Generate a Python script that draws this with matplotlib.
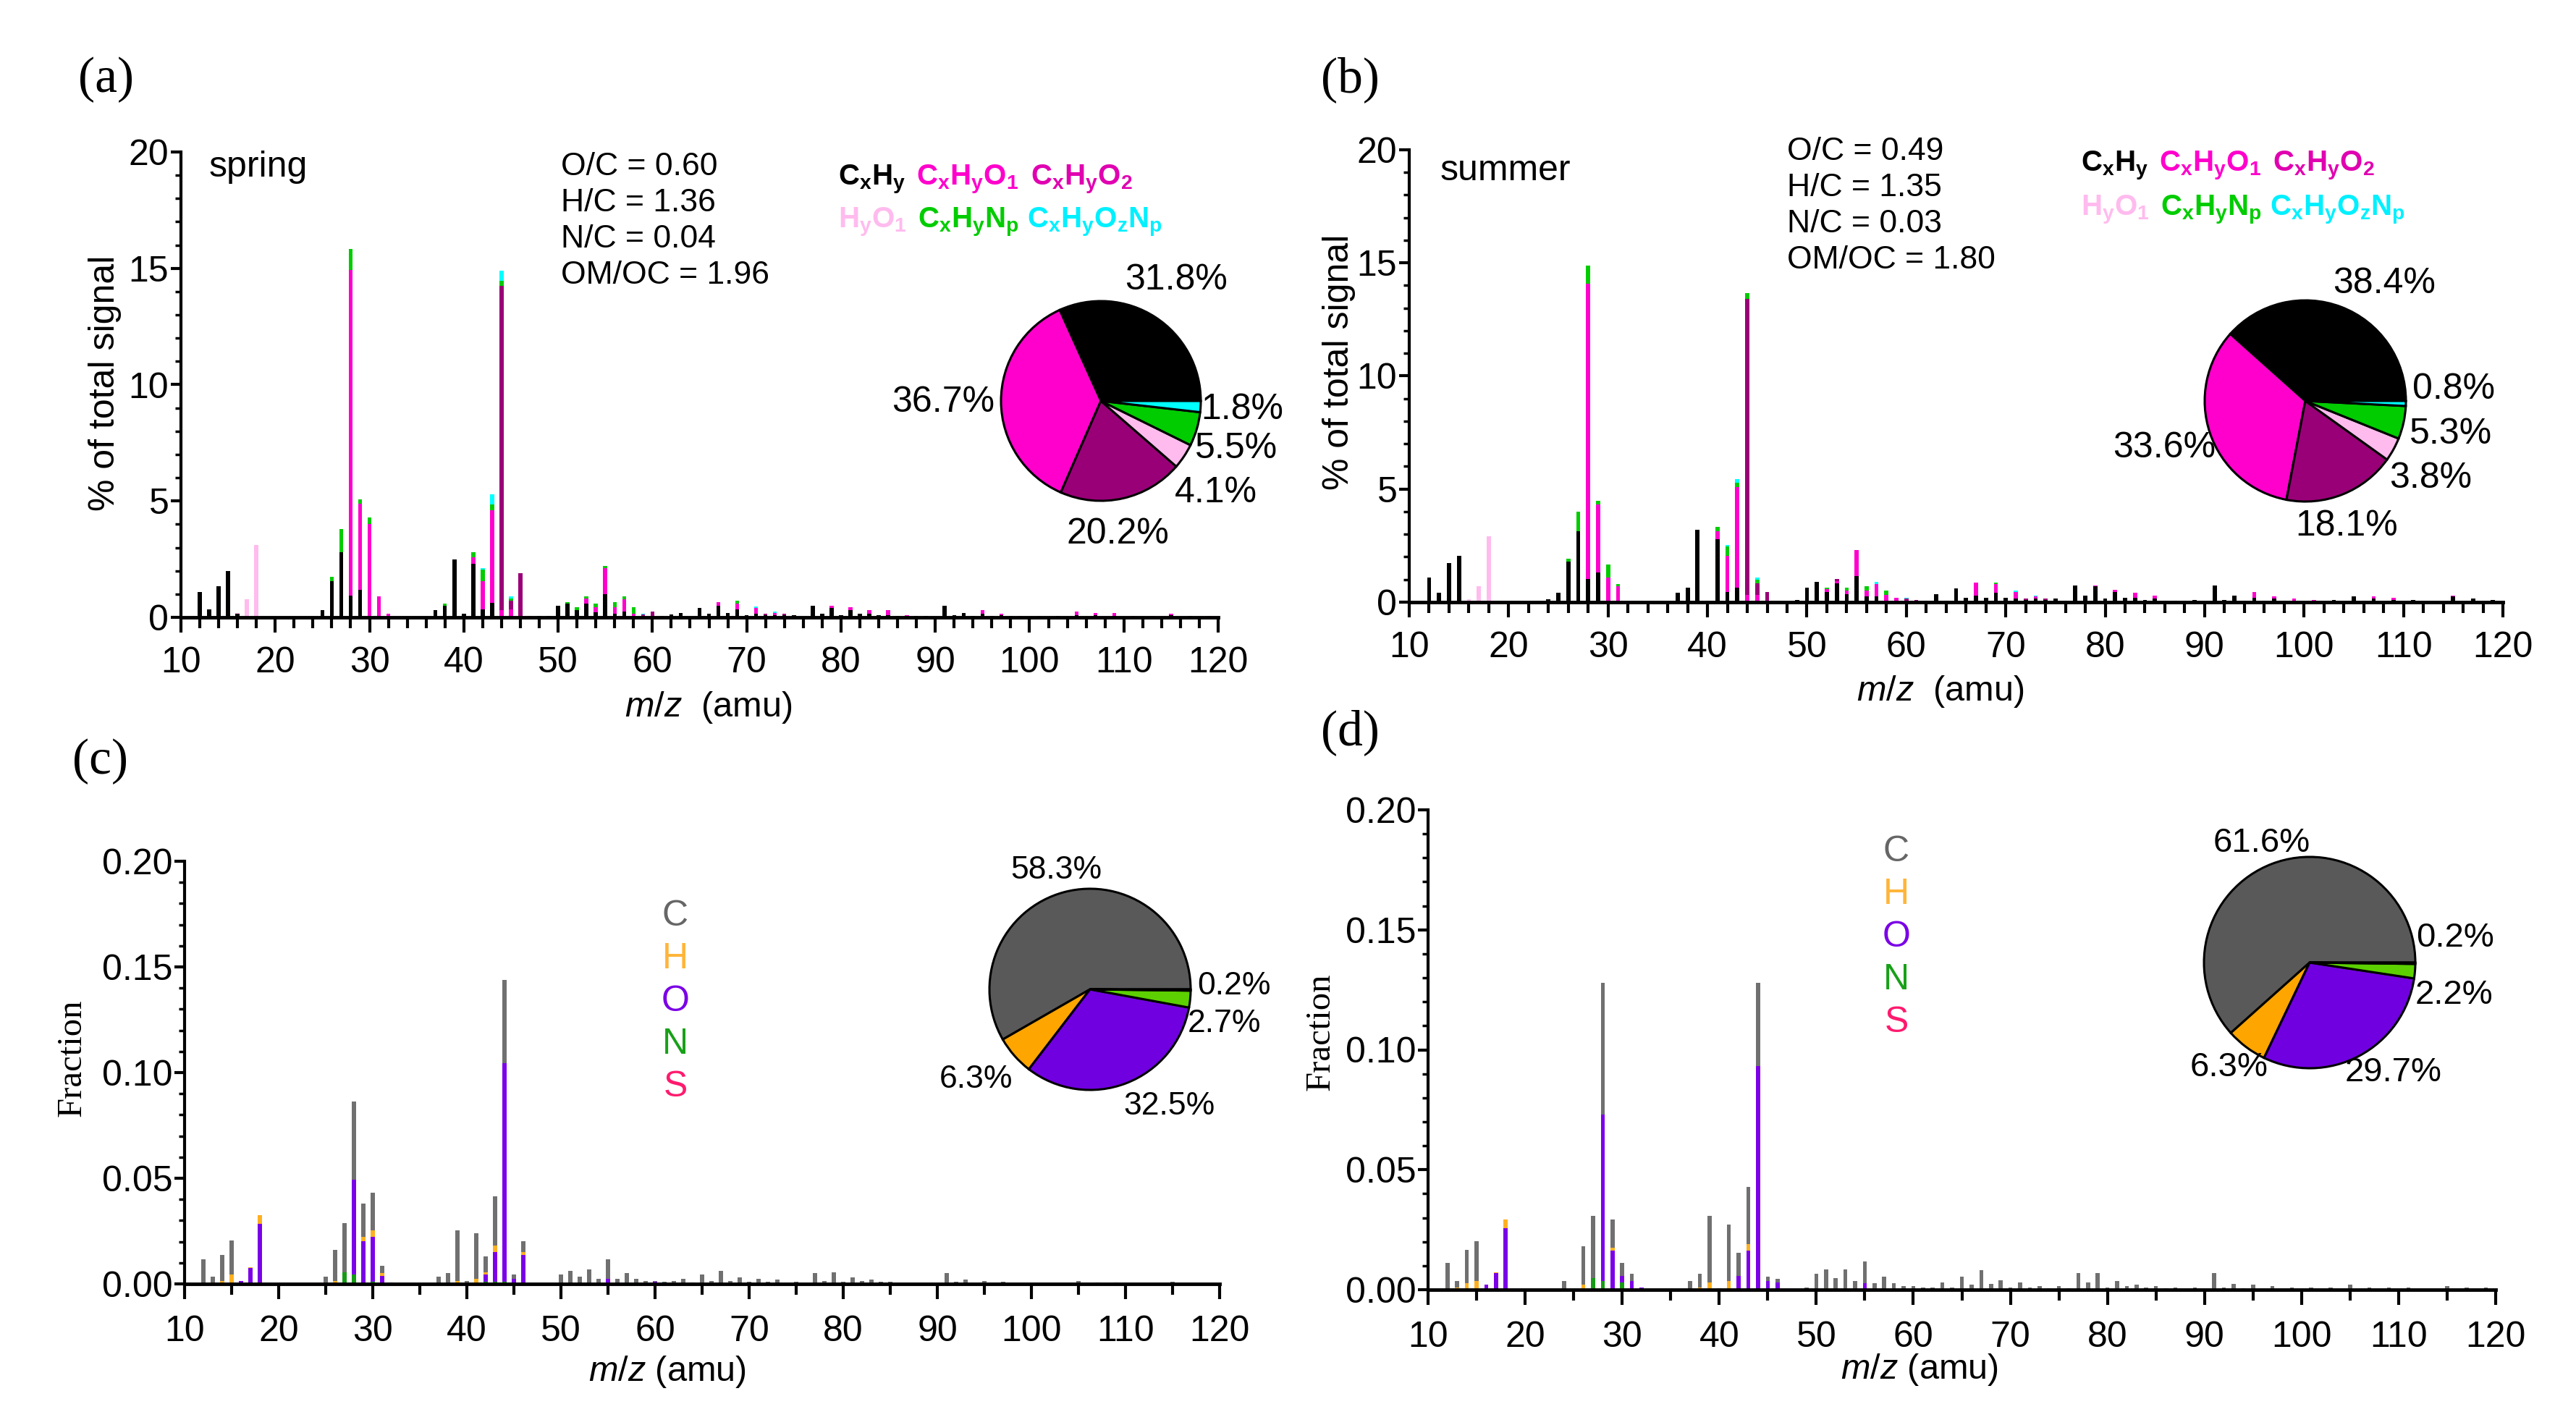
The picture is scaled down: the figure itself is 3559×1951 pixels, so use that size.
import numpy as np
import matplotlib
matplotlib.use('Agg')
import matplotlib.pyplot as plt
from matplotlib.ticker import MultipleLocator, FormatStrFormatter

plt.rcParams['font.family'] = ['Liberation Sans', 'DejaVu Sans']
plt.rcParams['mathtext.fontset'] = 'custom'
plt.rcParams['mathtext.rm'] = 'Liberation Sans'
plt.rcParams['mathtext.it'] = 'Liberation Sans:italic'
plt.rcParams['mathtext.bf'] = 'Liberation Sans:bold'

W, H = 3559, 1951
mz = np.arange(12, 121)

# ---- panel (a) spring, % of total signal, stacked families ----
cxhy_a = {12: 1.09, 13: 0.33, 14: 1.34, 15: 2.0, 16: 0.15, 24: 0.03, 25: 0.31, 26: 1.54, 27: 2.79,
          28: 0.92, 29: 1.19, 37: 0.31, 38: 0.5, 39: 2.48, 40: 0.15, 41: 2.31, 42: 0.33, 43: 0.61,
          48: 0.05, 49: 0.05, 50: 0.5, 51: 0.59, 52: 0.31, 53: 0.6, 54: 0.22, 55: 0.98, 56: 0.17,
          57: 0.25, 62: 0.12, 63: 0.2, 65: 0.4, 66: 0.15, 67: 0.5, 68: 0.2, 69: 0.35, 70: 0.1,
          71: 0.15, 72: 0.1, 73: 0.1, 74: 0.1, 75: 0.1, 77: 0.5, 78: 0.15, 79: 0.4, 80: 0.1,
          81: 0.3, 82: 0.15, 83: 0.15, 84: 0.1, 85: 0.1, 86: 0.05, 87: 0.05, 89: 0.05, 91: 0.5,
          92: 0.1, 93: 0.2, 94: 0.05, 95: 0.15, 96: 0.05, 97: 0.1, 98: 0.05, 103: 0.05, 105: 0.1,
          107: 0.1, 109: 0.05, 115: 0.1, 117: 0.05}
cxhyo1_a = {22: 0.03, 28: 14.0, 29: 3.7, 30: 4.02, 31: 0.89, 32: 0.15, 41: 0.28, 42: 1.23, 43: 3.99,
            44: 0.31, 45: 0.35, 47: 0.05, 53: 0.2, 54: 0.2, 55: 1.14, 56: 0.28, 57: 0.53, 58: 0.17,
            61: 0.05, 67: 0.15, 69: 0.25, 71: 0.25, 73: 0.1, 79: 0.1, 81: 0.15, 83: 0.15, 85: 0.2,
            87: 0.05, 95: 0.15, 97: 0.05, 99: 0.05, 101: 0.05, 105: 0.15, 107: 0.1, 109: 0.15,
            111: 0.05, 113: 0.05, 115: 0.05, 119: 0.05}
cxhyo2_a = {44: 13.94, 45: 0.35, 46: 1.9, 59: 0.12, 60: 0.25, 72: 0.05, 74: 0.05, 88: 0.05}
hyo1_a = {16: 0.05, 17: 0.78, 18: 3.12}
cxhynp_a = {26: 0.19, 27: 1.0, 28: 0.91, 29: 0.19, 30: 0.28, 38: 0.08, 41: 0.2, 42: 0.5, 43: 0.25,
            44: 0.2, 45: 0.1, 51: 0.05, 52: 0.14, 53: 0.09, 54: 0.17, 55: 0.08, 56: 0.2, 57: 0.11,
            58: 0.28, 69: 0.1}
cxhyoznp_a = {42: 0.05, 43: 0.45, 44: 0.45, 45: 0.1, 59: 0.05, 71: 0.08, 73: 0.05}
pie_a = [31.8, 36.7, 20.2, 4.1, 5.5, 1.8]

# ---- panel (b) summer ----
cxhy_b = {12: 1.09, 13: 0.42, 14: 1.74, 15: 2.06, 24: 0.14, 25: 0.42, 26: 1.78, 27: 3.15, 28: 1.01,
          29: 1.32, 37: 0.42, 38: 0.63, 39: 3.21, 40: 0.05, 41: 2.78, 42: 0.44, 43: 0.63, 49: 0.1,
          50: 0.63, 51: 0.89, 52: 0.46, 53: 0.83, 54: 0.34, 55: 1.15, 56: 0.25, 57: 0.25, 61: 0.05,
          62: 0.05, 63: 0.35, 64: 0.05, 65: 0.6, 66: 0.2, 67: 0.3, 68: 0.2, 69: 0.4, 70: 0.2,
          71: 0.15, 72: 0.1, 73: 0.15, 74: 0.1, 75: 0.15, 76: 0.05, 77: 0.75, 78: 0.3, 79: 0.7,
          80: 0.15, 81: 0.45, 82: 0.2, 83: 0.2, 84: 0.1, 85: 0.15, 86: 0.05, 87: 0.05, 89: 0.1,
          91: 0.75, 92: 0.1, 93: 0.3, 94: 0.05, 95: 0.2, 96: 0.05, 97: 0.15, 98: 0.05, 99: 0.05,
          101: 0.05, 103: 0.1, 105: 0.25, 106: 0.05, 107: 0.15, 109: 0.1, 111: 0.1, 115: 0.25,
          117: 0.15, 119: 0.1}
cxhyo1_b = {28: 13.07, 29: 3.0, 30: 1.09, 31: 0.69, 41: 0.34, 42: 1.62, 43: 4.47, 44: 0.32, 45: 0.32,
            52: 0.11, 53: 0.1, 54: 0.18, 55: 1.14, 56: 0.27, 57: 0.55, 58: 0.32, 59: 0.2, 67: 0.55,
            69: 0.4, 71: 0.3, 73: 0.1, 79: 0.05, 81: 0.1, 83: 0.2, 85: 0.15, 95: 0.25, 97: 0.1,
            99: 0.1, 101: 0.05, 107: 0.1, 109: 0.1, 115: 0.05}
cxhyo2_b = {22: 0.03, 32: 0.03, 44: 13.08, 45: 0.51, 46: 0.46, 53: 0.08, 60: 0.15, 61: 0.05,
            72: 0.05, 74: 0.05, 88: 0.05}
hyo1_b = {16: 0.14, 17: 0.71, 18: 2.92}
cxhynp_b = {26: 0.15, 27: 0.84, 28: 0.81, 29: 0.15, 30: 0.57, 31: 0.11, 41: 0.21, 42: 0.41, 43: 0.18,
            44: 0.25, 45: 0.15, 52: 0.06, 54: 0.11, 56: 0.19, 58: 0.2, 69: 0.05}
cxhyoznp_b = {42: 0.05, 43: 0.17, 45: 0.11, 57: 0.09, 60: 0.05, 71: 0.05, 73: 0.05}
pie_b = [38.4, 33.6, 18.1, 3.8, 5.3, 0.8]

# ---- panel (c) spring elemental fractions ----
c_c = {12: 0.0115, 13: 0.0028, 14: 0.0124, 15: 0.0161, 24: 0.0005, 25: 0.0032, 26: 0.0149, 27: 0.0232,
       28: 0.0368, 29: 0.0158, 30: 0.0178, 31: 0.0034, 37: 0.0034, 38: 0.0047, 39: 0.0239, 40: 0.0014,
       41: 0.0216, 42: 0.0074, 43: 0.0234, 44: 0.0393, 45: 0.0018, 46: 0.0052, 50: 0.0046, 51: 0.0059,
       52: 0.0034, 53: 0.0062, 54: 0.0025, 55: 0.0094, 56: 0.0023, 57: 0.0052, 58: 0.0025, 59: 0.0015,
       60: 0.0005, 61: 0.001, 62: 0.0015, 63: 0.0025, 64: 0.0005, 65: 0.0045, 66: 0.0015, 67: 0.006,
       68: 0.0015, 69: 0.003, 70: 0.001, 71: 0.0025, 72: 0.001, 73: 0.002, 74: 0.0005, 75: 0.001,
       76: 0.0005, 77: 0.005, 78: 0.0015, 79: 0.0055, 80: 0.001, 81: 0.003, 82: 0.0015, 83: 0.002,
       84: 0.001, 85: 0.001, 86: 0.0005, 87: 0.0005, 89: 0.0005, 91: 0.005, 92: 0.001, 93: 0.002,
       94: 0.0005, 95: 0.0015, 97: 0.001, 99: 0.0005, 105: 0.0015, 107: 0.0008, 109: 0.0008,
       115: 0.001, 117: 0.0005}
h_c = {13: 0.0006, 14: 0.0014, 15: 0.0046, 17: 0.0005, 18: 0.0039, 25: 0.0002, 26: 0.0012, 29: 0.002,
       30: 0.0029, 31: 0.0015, 38: 0.0005, 39: 0.0014, 41: 0.0025, 42: 0.0009, 43: 0.0033, 46: 0.0011,
       51: 0.0004}
o_c = {16: 0.0014, 17: 0.0075, 18: 0.0285, 22: 0.0003, 28: 0.0448, 29: 0.0201, 30: 0.0213, 31: 0.0037,
       32: 0.0003, 42: 0.0036, 43: 0.0139, 44: 0.1034, 45: 0.0025, 46: 0.0138, 53: 0.0005, 55: 0.0023,
       60: 0.001}
n_c = {27: 0.0055, 28: 0.0046, 30: 0.0011, 42: 0.001, 43: 0.001, 44: 0.001}
s_c = {32: 0.0003, 48: 0.0003, 64: 0.0003}
pie_c = [58.3, 6.3, 32.5, 2.7, 0.2]

# ---- panel (d) summer elemental fractions ----
c_d = {12: 0.0111, 13: 0.0027, 14: 0.0139, 15: 0.0164, 24: 0.0037, 26: 0.0161, 27: 0.0262, 28: 0.0549,
       29: 0.0116, 30: 0.0054, 31: 0.003, 37: 0.0037, 38: 0.0055, 39: 0.0279, 40: 0.0005, 41: 0.0237,
       42: 0.0097, 43: 0.0237, 44: 0.0347, 45: 0.0018, 46: 0.0015, 49: 0.001, 50: 0.0065, 51: 0.0078,
       52: 0.0047, 53: 0.0083, 54: 0.0037, 55: 0.0091, 56: 0.0027, 57: 0.0055, 58: 0.0027, 59: 0.0015,
       60: 0.0015, 61: 0.001, 62: 0.001, 63: 0.003, 64: 0.0005, 65: 0.0053, 66: 0.002, 67: 0.008,
       68: 0.0025, 69: 0.004, 70: 0.001, 71: 0.003, 72: 0.001, 73: 0.0015, 74: 0.0005, 75: 0.0015,
       76: 0.0005, 77: 0.0068, 78: 0.003, 79: 0.007, 80: 0.001, 81: 0.0035, 82: 0.0015, 83: 0.002,
       84: 0.001, 85: 0.0015, 86: 0.0005, 87: 0.001, 89: 0.001, 91: 0.0068, 92: 0.001, 93: 0.0025,
       94: 0.0005, 95: 0.002, 97: 0.0015, 99: 0.001, 101: 0.0008, 103: 0.001, 105: 0.002, 107: 0.001,
       109: 0.001, 111: 0.001, 115: 0.0015, 117: 0.001, 119: 0.0008}
h_d = {13: 0.001, 14: 0.0027, 15: 0.0037, 17: 0.0003, 18: 0.0035, 26: 0.002, 29: 0.0012, 38: 0.001,
       39: 0.003, 41: 0.0035, 43: 0.0027, 51: 0.0005}
o_d = {16: 0.002, 17: 0.007, 18: 0.0257, 22: 0.0003, 28: 0.0692, 29: 0.0164, 30: 0.0027, 31: 0.0035,
       32: 0.0005, 42: 0.0052, 43: 0.0164, 44: 0.0931, 45: 0.0037, 46: 0.003, 55: 0.0027}
n_d = {27: 0.0047, 28: 0.0037, 30: 0.003, 42: 0.0005}
s_d = {32: 0.0003, 48: 0.0003, 64: 0.0003}
pie_d = [61.6, 6.3, 29.7, 2.2, 0.2]

fam_colors = ['#000000', '#FF00CC', '#990077', '#FFBBEE', '#00CC00', '#00FFFF']
elem_bar_colors = ['#FF1A66', '#169B16', '#7B00E8', '#FFB020', '#707070']   # S, N, O, H, C (bottom->top)
elem_pie_colors = ['#595959', '#FFA500', '#7000E0', '#5CD000', '#FF1A66']   # C, H, O, N, S


def arr(d):
    a = np.zeros(len(mz))
    for k, v in d.items():
        a[k - 12] = v
    return a


def fig_axes(l, r, t, b):
    return fig.add_axes([l / W, 1 - b / H, (r - l) / W, (b - t) / H])


def ftext(x, y, s, **kw):
    fig.text(x / W, 1 - y / H, s, **kw)


def style(ax, ymax, ymaj, ymin, xmin, fmt=None, xpad=14):
    ax.set_xlim(10, 120)
    ax.set_ylim(0, ymax)
    for sp in ['top', 'right']:
        ax.spines[sp].set_visible(False)
    ax.spines['left'].set_linewidth(3)
    ax.spines['bottom'].set_linewidth(3.5)
    ax.xaxis.set_major_locator(MultipleLocator(10))
    ax.xaxis.set_minor_locator(MultipleLocator(xmin))
    ax.yaxis.set_major_locator(MultipleLocator(ymaj))
    ax.yaxis.set_minor_locator(MultipleLocator(ymin))
    if fmt:
        ax.yaxis.set_major_formatter(FormatStrFormatter(fmt))
    ax.tick_params(axis='x', which='major', direction='out', length=15, width=3, labelsize=36, pad=xpad)
    ax.tick_params(axis='x', which='minor', direction='out', length=11, width=3)
    ax.tick_params(axis='y', which='major', direction='out', length=10, width=3, labelsize=36, pad=2)
    ax.tick_params(axis='y', which='minor', direction='out', length=6, width=2.5)
    ax.set_facecolor('none')


def stack(ax, series, colors):
    bottom = np.zeros(len(mz))
    for d, c in zip(series, colors):
        v = arr(d)
        ax.bar(mz, v, width=0.42, bottom=bottom, color=c, linewidth=0, zorder=2)
        bottom = bottom + v


def pie(cx, cy, r, vals, colors):
    pad = 1.04
    ax = fig.add_axes([(cx - r * pad) / W, 1 - (cy + r * pad) / H, 2 * r * pad / W, 2 * r * pad / H])
    ax.pie(vals, colors=colors, startangle=0, counterclock=True,
           wedgeprops=dict(edgecolor='black', linewidth=2.2))
    ax.set_xlim(-pad, pad)
    ax.set_ylim(-pad, pad)
    ax.set_aspect('equal')
    ax.axis('off')


fig = plt.figure(figsize=(W / 100, H / 100), dpi=100)
fig.patch.set_facecolor('white')

serif = ['Liberation Serif', 'DejaVu Serif']

# ---------------- (a) ----------------
ax_a = fig_axes(250, 1683, 210, 853)
stack(ax_a, [cxhy_a, cxhyo1_a, cxhyo2_a, hyo1_a, cxhynp_a, cxhyoznp_a], fam_colors)
style(ax_a, 20, 5, 1, 2)
ftext(108, 110, '(a)', family=serif, fontsize=50, ha='left', va='center')
ftext(145, 529, '% of total signal', fontsize=36, rotation=90, ha='center', va='center')
ftext(979, 977, r'$m/z$  (amu)', fontsize=35, ha='center', va='center')
ftext(289, 244, 'spring', fontsize=36, ha='left', va='baseline')
for i, s in enumerate(['O/C = 0.60', 'H/C = 1.36', 'N/C = 0.04', 'OM/OC = 1.96']):
    ftext(775, 242 + 50 * i, s, fontsize=32, ha='left', va='baseline')
ftext(1158, 255, r'$\mathbf{C_xH_y}$', fontsize=29, color='#000000', va='baseline')
ftext(1266, 255, r'$\mathbf{C_xH_yO_1}$', fontsize=29, color='#FF00CC', va='baseline')
ftext(1424, 255, r'$\mathbf{C_xH_yO_2}$', fontsize=29, color='#E000B0', va='baseline')
ftext(1158, 314, r'$\mathbf{H_yO_1}$', fontsize=29, color='#FFBBEE', va='baseline')
ftext(1268, 314, r'$\mathbf{C_xH_yN_p}$', fontsize=29, color='#00CC00', va='baseline')
ftext(1419, 314, r'$\mathbf{C_xH_yO_zN_p}$', fontsize=29, color='#00F0FF', va='baseline')
pie(1521, 554, 138, pie_a, fam_colors)
for x, y, s in [(1625, 387, '31.8%'), (1303, 556, '36.7%'), (1716, 566, '1.8%'),
                (1708, 620, '5.5%'), (1680, 681, '4.1%'), (1544, 738, '20.2%')]:
    ftext(x, y, s, fontsize=36, ha='center', va='center')

# ---------------- (b) ----------------
ax_b = fig_axes(1947, 3458, 207, 832)
stack(ax_b, [cxhy_b, cxhyo1_b, cxhyo2_b, hyo1_b, cxhynp_b, cxhyoznp_b], fam_colors)
style(ax_b, 20, 5, 1, 2)
ftext(1825, 110, '(b)', family=serif, fontsize=50, ha='left', va='center')
ftext(1850, 500, '% of total signal', fontsize=36, rotation=90, ha='center', va='center')
ftext(2681, 955, r'$m/z$  (amu)', fontsize=35, ha='center', va='center')
ftext(1990, 249, 'summer', fontsize=36, ha='left', va='baseline')
for i, s in enumerate(['O/C = 0.49', 'H/C = 1.35', 'N/C = 0.03', 'OM/OC = 1.80']):
    ftext(2469, 221 + 50 * i, s, fontsize=32, ha='left', va='baseline')
ftext(2875, 236, r'$\mathbf{C_xH_y}$', fontsize=29, color='#000000', va='baseline')
ftext(2983, 236, r'$\mathbf{C_xH_yO_1}$', fontsize=29, color='#FF00CC', va='baseline')
ftext(3140, 236, r'$\mathbf{C_xH_yO_2}$', fontsize=29, color='#E000B0', va='baseline')
ftext(2875, 297, r'$\mathbf{H_yO_1}$', fontsize=29, color='#FFBBEE', va='baseline')
ftext(2985, 297, r'$\mathbf{C_xH_yN_p}$', fontsize=29, color='#00CC00', va='baseline')
ftext(3136, 297, r'$\mathbf{C_xH_yO_zN_p}$', fontsize=29, color='#00F0FF', va='baseline')
pie(3185, 554, 139, pie_b, fam_colors)
for x, y, s in [(3294, 392, '38.4%'), (2990, 619, '33.6%'), (3390, 538, '0.8%'),
                (3386, 600, '5.3%'), (3358, 661, '3.8%'), (3242, 727, '18.1%')]:
    ftext(x, y, s, fontsize=36, ha='center', va='center')

# ---------------- (c) ----------------
legend_elem = [('C', '#666666'), ('H', '#FFB53A'), ('O', '#7A00E6'), ('N', '#18A018'), ('S', '#FF1A6E')]
ax_c = fig_axes(255, 1685, 1190, 1774)
stack(ax_c, [s_c, n_c, o_c, h_c, c_c], elem_bar_colors)
style(ax_c, 0.20, 0.05, 0.01, 5, fmt='%.2f', xpad=16)
ftext(100, 1052, '(c)', family=serif, fontsize=50, ha='left', va='center')
ftext(100, 1462, 'Fraction', family=serif, fontsize=35, rotation=90, ha='center', va='center')
ftext(922, 1895, r'$m/z$ (amu)', fontsize=35, ha='center', va='center')
for i, (s, c) in enumerate(legend_elem):
    ftext(933, 1266 + 59 * i, s, fontsize=36, color=c, ha='center', va='center')
pie(1506, 1367, 139, pie_c, elem_pie_colors)
for x, y, s in [(1459, 1202, '58.3%'), (1705, 1363, '0.2%'), (1691, 1415, '2.7%'),
                (1348, 1491, '6.3%'), (1615, 1528, '32.5%')]:
    ftext(x, y, s, fontsize=32, ha='center', va='center')

# ---------------- (d) ----------------
ax_d = fig_axes(1973, 3448, 1119, 1782)
stack(ax_d, [s_d, n_d, o_d, h_d, c_d], elem_bar_colors)
style(ax_d, 0.20, 0.05, 0.01, 5, fmt='%.2f', xpad=16)
ftext(1825, 1012, '(d)', family=serif, fontsize=50, ha='left', va='center')
ftext(1825, 1426, 'Fraction', family=serif, fontsize=35, rotation=90, ha='center', va='center')
ftext(2652, 1892, r'$m/z$ (amu)', fontsize=35, ha='center', va='center')
for i, (s, c) in enumerate(legend_elem):
    ftext(2620, 1177 + 59 * i, s, fontsize=36, color=c, ha='center', va='center')
pie(3191, 1330, 146, pie_d, elem_pie_colors)
for x, y, s in [(3125, 1165, '61.6%'), (3392, 1296, '0.2%'), (3390, 1375, '2.2%'),
                (3080, 1475, '6.3%'), (3307, 1482, '29.7%')]:
    ftext(x, y, s, fontsize=34, ha='center', va='center')

fig.savefig('out.png', dpi=100, facecolor='white')
